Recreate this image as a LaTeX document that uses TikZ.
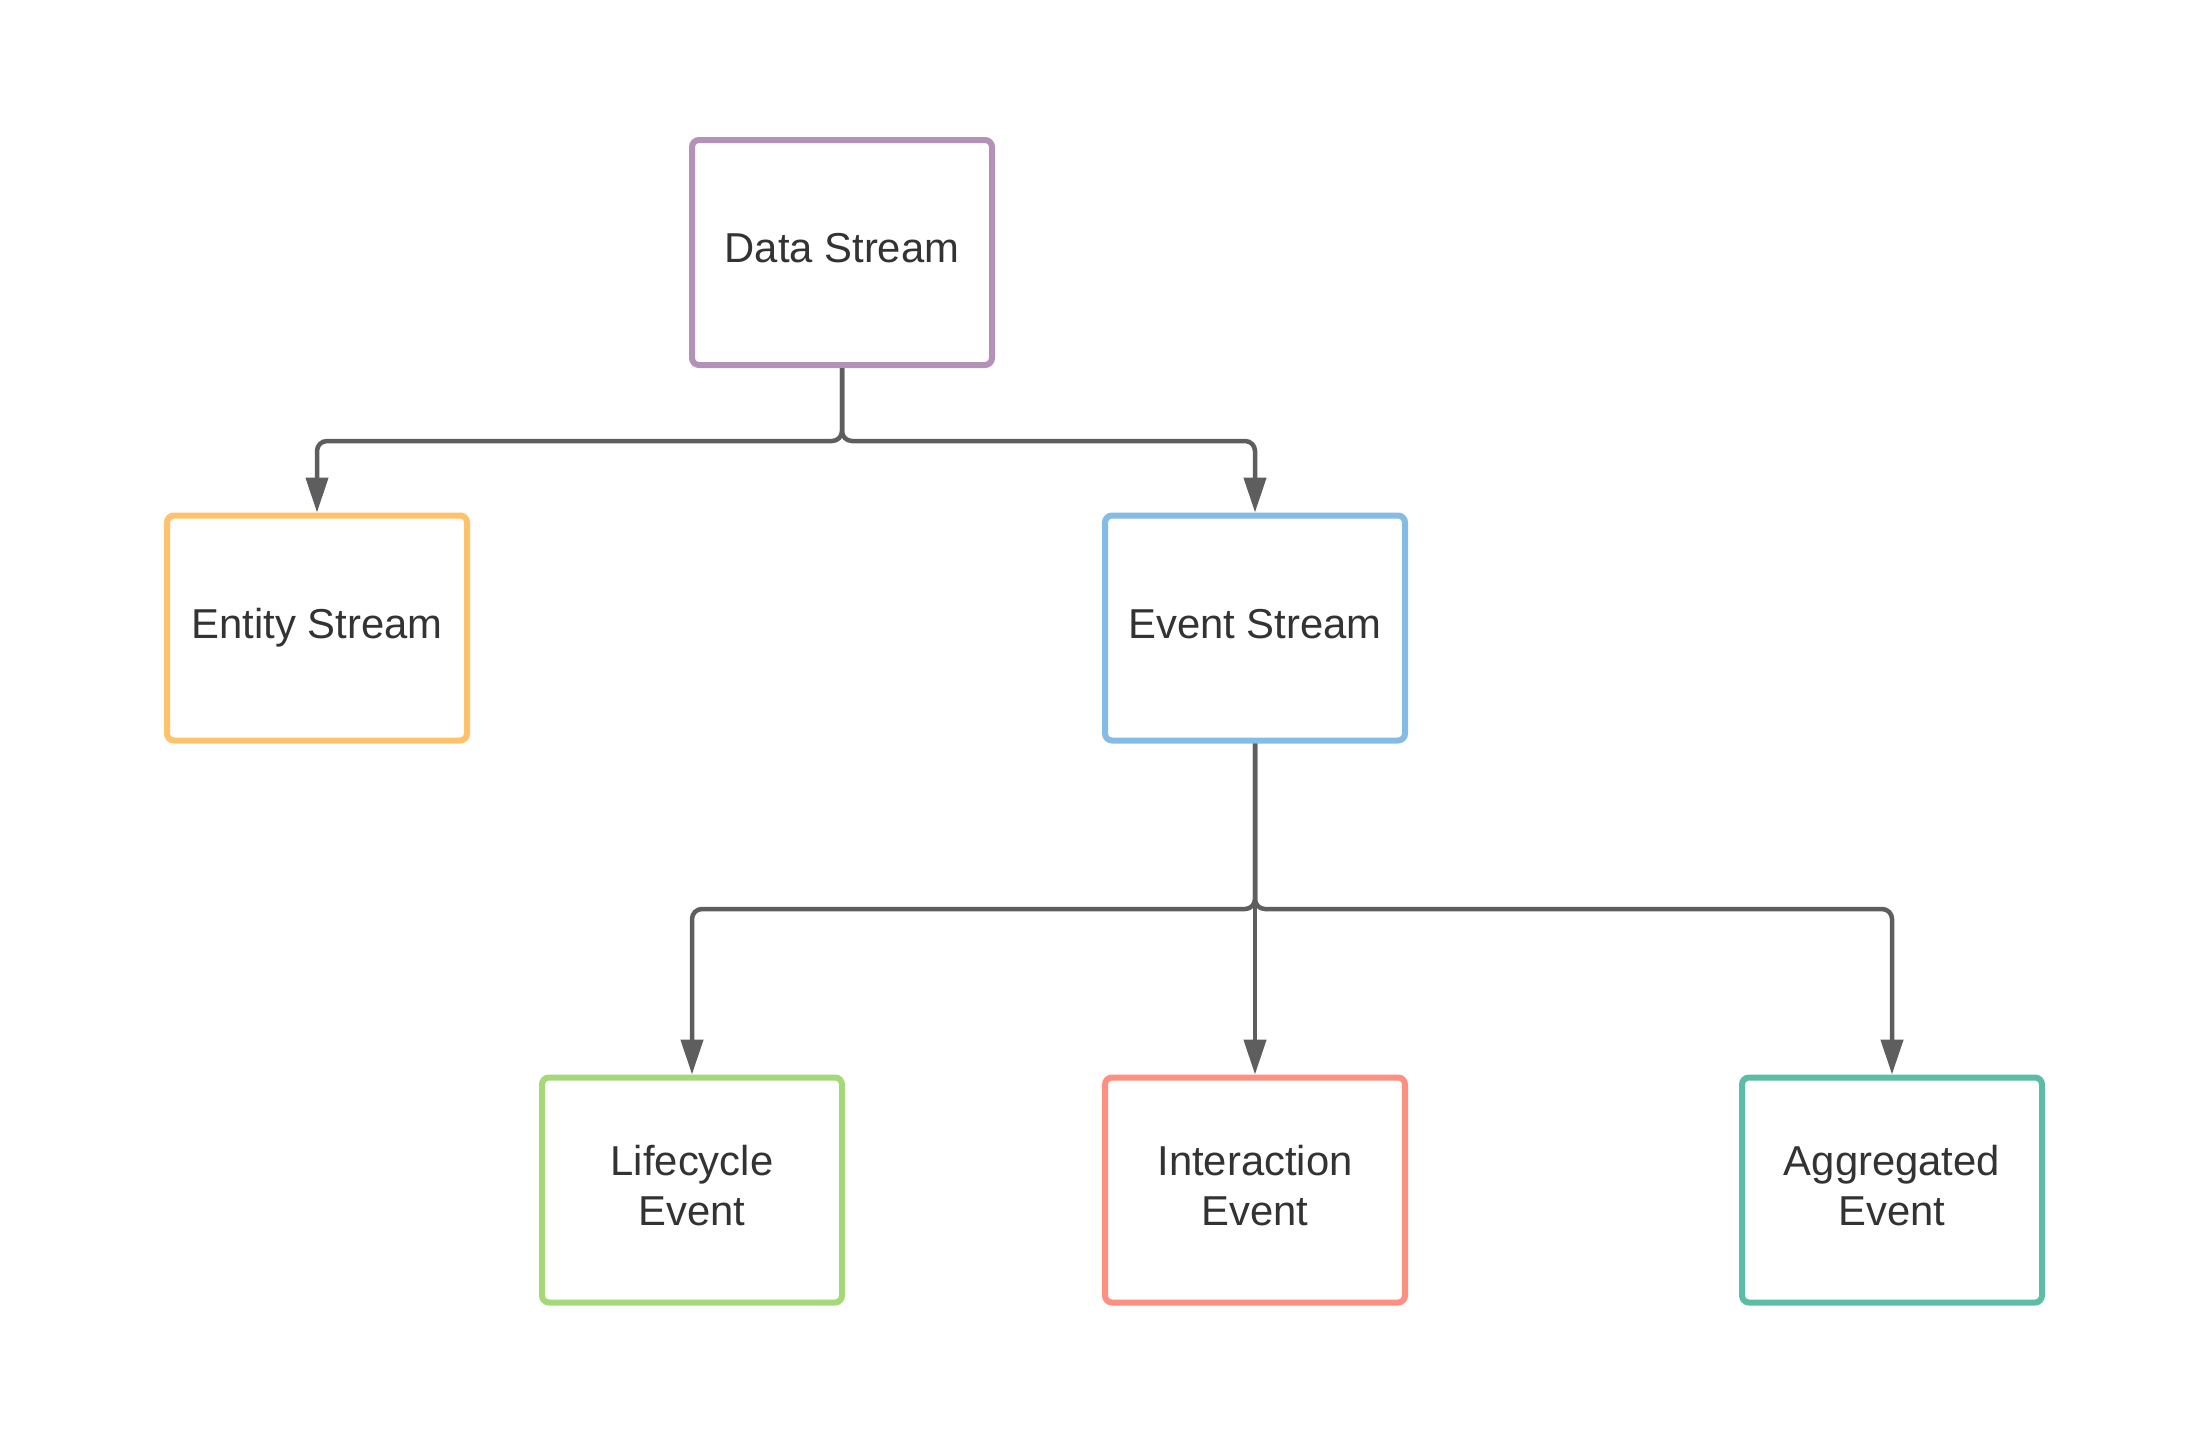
\documentclass[tikz,border=0pt]{standalone}
\usepackage{fontspec}
\setmainfont{Liberation Sans}
\usetikzlibrary{arrows.meta}
\definecolor{cpurple}{HTML}{B391B8}
\definecolor{corange}{HTML}{FFC169}
\definecolor{cblue}{HTML}{84BCE6}
\definecolor{cgreen}{HTML}{A3D977}
\definecolor{cred}{HTML}{FF8F80}
\definecolor{cteal}{HTML}{5CBDA6}
\definecolor{cline}{HTML}{5E5E5E}
\definecolor{ctext}{HTML}{333333}
\newcommand{\onelinetext}[1]{\raisebox{-1pt}{\begin{tabular}{@{}c@{}}#1\end{tabular}}}
\newcommand{\twolinetext}[2]{\raisebox{0.6pt}{\begin{tabular}{@{}c@{}}#1\\#2\end{tabular}}}
\tikzset{
  box/.style={rectangle, draw, line width=3pt, rounded corners=3.5pt,
    minimum width=150pt, minimum height=112.5pt, inner sep=0pt,
    text=ctext, font=\fontsize{20.9pt}{25pt}\selectfont},
  conn/.style={draw=cline, line width=2.25pt, rounded corners=5pt,
    -{Triangle[length=17.5pt,width=11pt]}}
}
\begin{document}
\begin{tikzpicture}[x=0.5pt,y=-0.5pt]
\useasboundingbox[fill=white] (0,0) rectangle (2192,1440);
\node[box, draw=cpurple] (ds) at (842,252.5) {\onelinetext{Data Stream}};
\node[box, draw=corange] (ent) at (317,628) {\onelinetext{Entity Stream}};
\node[box, draw=cblue] (ev) at (1255,628) {\onelinetext{Event Stream}};
\node[box, draw=cgreen] (lc) at (692,1190) {\twolinetext{Lifecycle}{Event}};
\node[box, draw=cred] (ie) at (1255,1190) {\twolinetext{Interaction}{Event}};
\node[box, draw=cteal] (ag) at (1892,1190) {\twolinetext{Aggregated}{Event}};
\coordinate (j1) at (842,441);
\coordinate (j2) at (1255,909);
\draw[conn] (ds.south) -- (j1) -| (ent.north);
\draw[conn] (ds.south) -- (j1) -| (ev.north);
\draw[conn] (ev.south) -- (j2) -| (lc.north);
\draw[conn] (ev.south) -- (j2) -| (ag.north);
\draw[conn] (ev.south) -- (ie.north);
\end{tikzpicture}
\end{document}
